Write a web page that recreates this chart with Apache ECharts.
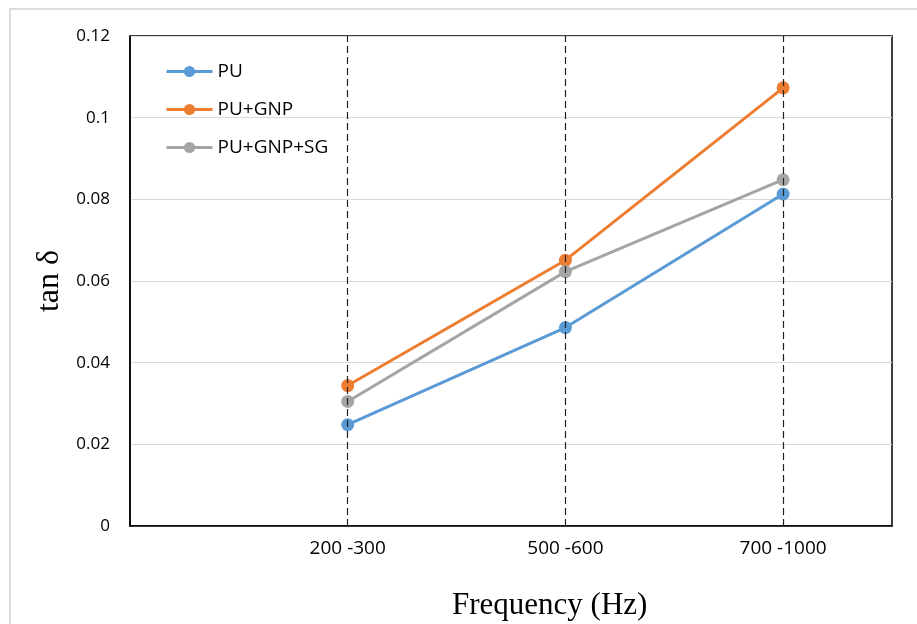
<!DOCTYPE html>
<html>
<head>
<meta charset="utf-8">
<script src="https://cdn.jsdelivr.net/npm/echarts@6/dist/echarts.min.js"></script>
<style>
  html, body { margin: 0; padding: 0; background: #fff; }
  #chart { width: 917px; height: 624px; }
</style>
</head>
<body>
<div id="chart"></div>
<script>
const categories = ['200 -300', '500 -600', '700 -1000']
const seriesNames = ['PU', 'PU+GNP', 'PU+GNP+SG']
const puValues = [0.0248, 0.0486, 0.0813]
const gnpValues = [0.0344, 0.0651, 0.1073]
const sgValues = [0.0305, 0.0623, 0.0848]
const yTicks = [0, 0.02, 0.04, 0.06, 0.08, 0.1, 0.12]

const colors = ['#5B9BD5', '#ED7D31', '#A5A5A5']

// categories sit on x = 1, 2, 3 of a 0..3.5 value axis
const toPoints = vals => vals.map((v, i) => [i + 1, v])

const chart = echarts.init(document.getElementById('chart'))

const lineSeries = [puValues, gnpValues, sgValues].map((vals, i) => ({
  name: seriesNames[i],
  type: 'line',
  data: toPoints(vals),
  symbol: 'circle',
  symbolSize: 13,
  lineStyle: { width: 3, color: colors[i] },
  itemStyle: { color: colors[i] },
  z: 3
}))

// dashed category guides
lineSeries[0].markLine = {
  silent: true,
  symbol: 'none',
  label: { show: false },
  lineStyle: { type: [7, 4], color: '#222', width: 1.2 },
  data: categories.map((c, i) => ({ xAxis: i + 1 }))
}

chart.setOption({
  animation: false,
  backgroundColor: '#fff',
  color: colors,
  graphic: [
    {
      type: 'rect',
      shape: { x: 10, y: 9, width: 920, height: 640 },
      style: { fill: 'none', stroke: '#dcdcdc', lineWidth: 2 },
      silent: true
    },
    {
      type: 'text',
      left: 452,
      top: 590,
      style: {
        text: 'Frequency (Hz)',
        font: '31px "Liberation Serif"',
        fill: '#000'
      }
    }
  ],
  legend: {
    orient: 'vertical',
    left: 160,
    top: 56,
    itemWidth: 46,
    itemHeight: 14,
    itemGap: 17,
    lineStyle: { width: 3 },
    textStyle: { fontFamily: 'Open Sans', fontSize: 19, lineHeight: 21, color: '#000' },
    data: seriesNames
  },
  grid: {
    left: 130,
    top: 36,
    right: 25,
    bottom: 98,
    show: true,
    borderColor: '#000',
    borderWidth: 1.5
  },
  xAxis: {
    type: 'value',
    min: 0,
    max: 3.5,
    interval: 1,
    axisLine: { show: true, lineStyle: { color: '#000', width: 1.5 } },
    axisTick: { show: false },
    splitLine: { show: false },
    axisLabel: {
      margin: 13,
      fontFamily: 'Open Sans',
      fontSize: 19,
      color: '#000',
      showMaxLabel: false,
      formatter: v => categories[v - 1] || ''
    }
  },
  yAxis: {
    type: 'value',
    min: 0,
    max: 0.12,
    interval: 0.02,
    name: 'tan δ',
    nameLocation: 'middle',
    nameGap: 64,
    nameRotate: 90,
    nameTextStyle: { fontFamily: 'Liberation Serif', fontSize: 32, color: '#000' },
    axisLine: { show: true, lineStyle: { color: '#000', width: 1.5 } },
    axisTick: { show: false },
    splitLine: { show: true, lineStyle: { color: '#D9D9D9', width: 1.2 } },
    axisLabel: {
      margin: 20,
      fontFamily: 'Open Sans',
      fontSize: 17,
      color: '#000',
      formatter: v => yTicks.includes(+v.toFixed(2)) ? String(+v.toFixed(2)) : ''
    }
  },
  series: lineSeries
})
</script>
</body>
</html>
